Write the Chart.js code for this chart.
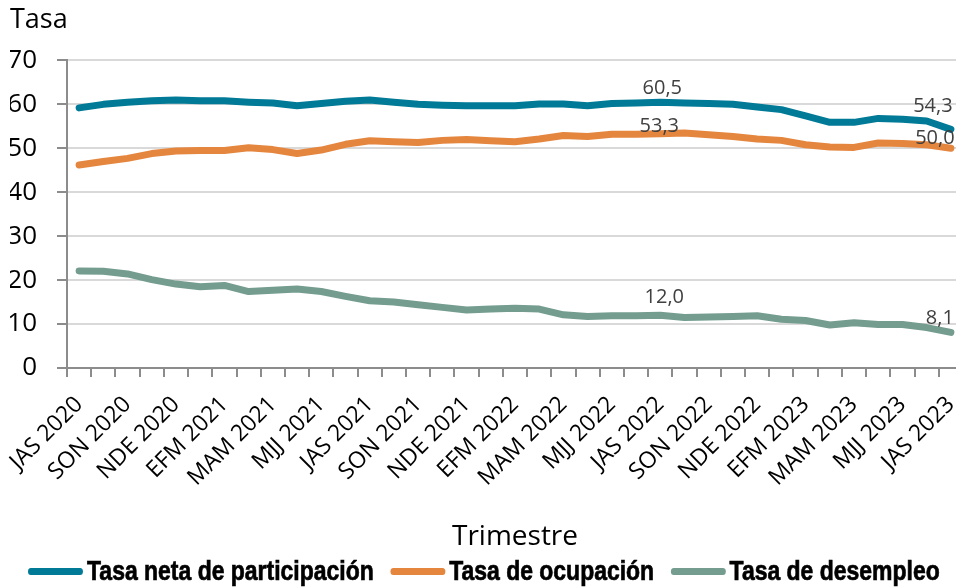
<!DOCTYPE html>
<html>
<head>
<meta charset="utf-8">
<script src="https://cdn.jsdelivr.net/npm/chart.js@4.4.1/dist/chart.umd.min.js"></script>
<style>
  html, body { margin: 0; padding: 0; overflow: hidden; background: #fff; }
  #wrap { position: relative; width: 956px; height: 588px; overflow: hidden; }
  #myChart { position: absolute; left: 0; top: 0; }
  #legend {
    position: absolute; left: 28px; top: 555px;
    display: flex; align-items: center; white-space: nowrap;
    font-family: "Liberation Sans", Arial, sans-serif;
    font-weight: bold; font-size: 28px; color: #000;
    -webkit-text-stroke: 0.7px #000;
    transform: scaleX(0.82); transform-origin: 0 0;
  }
  .item { display: flex; align-items: center; margin-right: 20px; }
  .swatch { width: 67px; height: 7px; border-radius: 4px; margin-right: 5px; }
</style>
</head>
<body>
<div id="wrap">
  <canvas id="myChart" width="963" height="588"></canvas>
  <div id="legend"></div>
</div>
<script>
// trimestres móviles
var trimestres = [
  "JAS 2020", "ASO 2020", "SON 2020", "OND 2020", "NDE 2020", "DEF 2021",
  "EFM 2021", "FMA 2021", "MAM 2021", "AMJ 2021", "MJJ 2021", "JJA 2021",
  "JAS 2021", "ASO 2021", "SON 2021", "OND 2021", "NDE 2021", "DEF 2022",
  "EFM 2022", "FMA 2022", "MAM 2022", "AMJ 2022", "MJJ 2022", "JJA 2022",
  "JAS 2022", "ASO 2022", "SON 2022", "OND 2022", "NDE 2022", "DEF 2023",
  "EFM 2023", "FMA 2023", "MAM 2023", "AMJ 2023", "MJJ 2023", "JJA 2023",
  "JAS 2023"
];

var participacion = [59.2, 60.0, 60.5, 60.8, 61.0, 60.8, 60.8, 60.5, 60.3, 59.7, 60.2, 60.7,
  61.0, 60.5, 60.0, 59.8, 59.7, 59.7, 59.7, 60.1, 60.1, 59.7, 60.2, 60.3,
  60.5, 60.3, 60.2, 60.0, 59.4, 58.8, 57.4, 55.9, 55.9, 56.8, 56.6, 56.2, 54.3];

var ocupacion = [46.2, 47.0, 47.7, 48.8, 49.4, 49.5, 49.5, 50.1, 49.7, 48.8, 49.6, 50.9,
  51.7, 51.5, 51.3, 51.8, 52.0, 51.7, 51.5, 52.1, 52.9, 52.7, 53.2, 53.2,
  53.3, 53.5, 53.1, 52.7, 52.1, 51.8, 50.8, 50.3, 50.2, 51.2, 51.1, 50.8, 50.0];

var desempleo = [22.1, 22.0, 21.4, 20.1, 19.1, 18.5, 18.8, 17.4, 17.7, 18.0, 17.4, 16.3,
  15.3, 15.0, 14.4, 13.8, 13.2, 13.4, 13.6, 13.4, 12.1, 11.7, 11.9, 11.9,
  12.0, 11.5, 11.6, 11.7, 11.9, 11.1, 10.8, 9.8, 10.3, 9.9, 9.9, 9.2, 8.1];

var nombres = ["Tasa neta de participación", "Tasa de ocupación", "Tasa de desempleo"];
var colores = ["#007a96", "#e5863f", "#749d8f"];

// etiquetas de datos: serie, índice, desplazamiento
var etiquetas = [
  { s: 0, i: 24, dx: 2, dy: -8 },
  { s: 1, i: 24, dx: -1, dy: -2 },
  { s: 2, i: 24, dx: 4, dy: -12 },
  { s: 0, i: 36, dx: -18, dy: -17 },
  { s: 1, i: 36, dx: -16, dy: -4 },
  { s: 2, i: 36, dx: -11, dy: -8 }
];

var etiquetasPlugin = {
  id: "etiquetas",
  afterDatasetsDraw: function (chart) {
    var ctx = chart.ctx;
    ctx.save();
    ctx.font = "20px 'Open Sans'";
    ctx.fillStyle = "#404040";
    ctx.textAlign = "center";
    ctx.textBaseline = "alphabetic";
    etiquetas.forEach(function (e) {
      var pt = chart.getDatasetMeta(e.s).data[e.i];
      var v = chart.data.datasets[e.s].data[e.i];
      ctx.fillText(v.toFixed(1).replace(".", ","), pt.x + e.dx, pt.y + e.dy);
    });
    ctx.restore();
  }
};

var series = [participacion, ocupacion, desempleo];
var ctx = document.getElementById("myChart");
var chart = new Chart(ctx, {
  type: "line",
  data: {
    labels: trimestres,
    datasets: series.map(function (d, k) {
      return {
        label: nombres[k],
        data: d,
        borderColor: colores[k],
        backgroundColor: colores[k],
        borderWidth: 7,
        borderCapStyle: "round",
        borderJoinStyle: "round",
        pointRadius: 0,
        tension: 0
      };
    })
  },
  options: {
    responsive: false,
    animation: false,
    devicePixelRatio: 1,
    layout: { padding: { left: 10, right: 0, top: 0, bottom: 34 } },
    plugins: {
      legend: { display: false },
      tooltip: { enabled: false },
      title: {
        display: true,
        text: "Tasa",
        align: "start",
        color: "#000",
        font: { family: "Open Sans", size: 27, weight: "normal" },
        padding: { top: 4, bottom: 24 }
      }
    },
    scales: {
      x: {
        offset: true,
        grid: { drawOnChartArea: false, offset: true, tickLength: 9, color: "#8c8c8c", lineWidth: 2 },
        border: { color: "#8c8c8c", width: 2 },
        ticks: {
          autoSkip: false,
          minRotation: 45,
          maxRotation: 45,
          padding: 14,
          color: "#000",
          font: { family: "Open Sans", size: 23 },
          callback: function (v, i) { return i % 2 === 0 ? this.getLabelForValue(v) : ""; }
        },
        title: {
          display: true,
          text: "Trimestre",
          color: "#000",
          font: { family: "Open Sans", size: 28 },
          padding: 0
        },
        afterFit: function (s) { s.height = 186; s.paddingLeft = 0; s.paddingRight = 0; }
      },
      y: {
        min: 0,
        max: 70,
        ticks: { stepSize: 10, padding: 20, color: "#000", font: { family: "Open Sans", size: 26 } },
        grid: {
          color: function (c) { return c.tick && c.tick.value === 0 ? "#8c8c8c" : "#d9d9d9"; },
          lineWidth: 2,
          tickColor: "#8c8c8c",
          tickLength: 10
        },
        border: { color: "#8c8c8c", width: 2 },
        afterFit: function (s) { s.width = 57; }
      }
    }
  },
  plugins: [etiquetasPlugin]
});

// leyenda
var leg = document.getElementById("legend");
nombres.forEach(function (n, k) {
  var it = document.createElement("div");
  it.className = "item";
  var sw = document.createElement("span");
  sw.className = "swatch";
  sw.style.background = colores[k];
  var tx = document.createElement("span");
  tx.textContent = n;
  it.appendChild(sw);
  it.appendChild(tx);
  leg.appendChild(it);
});
</script>
</body>
</html>
